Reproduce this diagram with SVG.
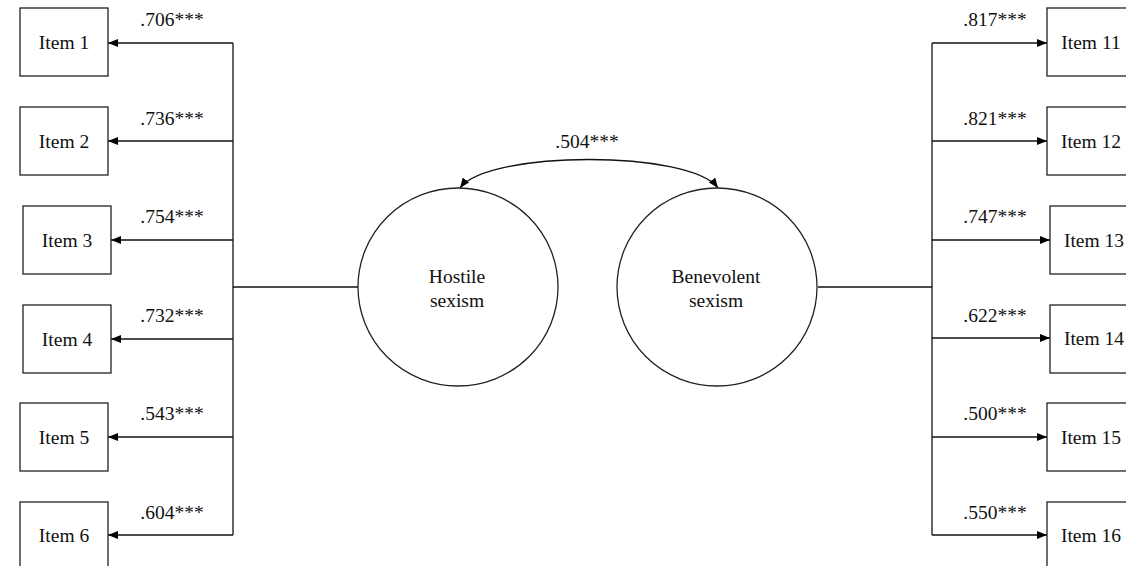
<svg xmlns="http://www.w3.org/2000/svg" width="1126" height="566" viewBox="0 0 1126 566">
<defs>
<marker id="ah" viewBox="0 0 10 8" refX="10" refY="4" markerWidth="10" markerHeight="8" markerUnits="userSpaceOnUse" orient="auto">
<path d="M0,0 L10,4 L0,8 Z" fill="#000"/>
</marker>
<marker id="ahs" viewBox="0 0 10 8" refX="0" refY="4" markerWidth="10" markerHeight="8" markerUnits="userSpaceOnUse" orient="auto">
<path d="M10,0 L0,4 L10,8 Z" fill="#000"/>
</marker>
<style>
.box{fill:#fff;stroke:#222;stroke-width:1.3}
.lat{fill:#fff;stroke:#222;stroke-width:1.3}
.t{font-family:"Liberation Serif","Times New Roman",serif;font-size:19.5px;fill:#111;text-anchor:middle}
.ln{fill:none;stroke:#111;stroke-width:1.3}
.ar{fill:none;stroke:#111;stroke-width:1.3;marker-end:url(#ah)}
</style>
</defs>
<rect width="1126" height="566" fill="#fff"/>
<g id="connectors">
<path class="ln" d="M233,43 V535"/>
<path class="ln" d="M233,287 H358"/>
<path class="ar" d="M233,43 H108"/>
<path class="ar" d="M233,141 H108"/>
<path class="ar" d="M233,240 H111"/>
<path class="ar" d="M233,339 H111"/>
<path class="ar" d="M233,437 H108"/>
<path class="ar" d="M233,535 H108"/>
<path class="ln" d="M932,43 V535"/>
<path class="ln" d="M818,287 H932"/>
<path class="ar" d="M932,43 H1047"/>
<path class="ar" d="M932,141 H1047"/>
<path class="ar" d="M932,240 H1050"/>
<path class="ar" d="M932,338 H1050"/>
<path class="ar" d="M932,437 H1047"/>
<path class="ar" d="M932,535 H1047"/>
<path class="ln" d="M460,188 C488,150 690,150 718,188" style="marker-start:url(#ahs);marker-end:url(#ah)"/>
<text class="t" x="172" y="26">.706***</text>
<text class="t" x="172" y="125">.736***</text>
<text class="t" x="172" y="223">.754***</text>
<text class="t" x="172" y="322">.732***</text>
<text class="t" x="172" y="420">.543***</text>
<text class="t" x="172" y="519">.604***</text>
<text class="t" x="995" y="26">.817***</text>
<text class="t" x="995" y="125">.821***</text>
<text class="t" x="995" y="223">.747***</text>
<text class="t" x="995" y="322">.622***</text>
<text class="t" x="995" y="420">.500***</text>
<text class="t" x="995" y="519">.550***</text>
<text class="t" x="587" y="148">.504***</text>
</g>
<g id="item1"><rect class="box" x="20" y="8" width="88" height="68"/><text class="t" x="64" y="49">Item 1</text></g>
<g id="item2"><rect class="box" x="20" y="107" width="88" height="68"/><text class="t" x="64" y="148">Item 2</text></g>
<g id="item3"><rect class="box" x="23" y="206" width="88" height="68"/><text class="t" x="67" y="247">Item 3</text></g>
<g id="item4"><rect class="box" x="23" y="305" width="88" height="68"/><text class="t" x="67" y="346">Item 4</text></g>
<g id="item5"><rect class="box" x="20" y="403" width="88" height="68"/><text class="t" x="64" y="444">Item 5</text></g>
<g id="item6"><rect class="box" x="20" y="502" width="88" height="68"/><text class="t" x="64" y="542">Item 6</text></g>
<g id="item11"><rect class="box" x="1047" y="8" width="88" height="68"/><text class="t" x="1091" y="49">Item 11</text></g>
<g id="item12"><rect class="box" x="1047" y="107" width="88" height="68"/><text class="t" x="1091" y="148">Item 12</text></g>
<g id="item13"><rect class="box" x="1050" y="206" width="88" height="68"/><text class="t" x="1094" y="247">Item 13</text></g>
<g id="item14"><rect class="box" x="1050" y="305" width="88" height="68"/><text class="t" x="1094" y="345">Item 14</text></g>
<g id="item15"><rect class="box" x="1047" y="403" width="88" height="68"/><text class="t" x="1091" y="444">Item 15</text></g>
<g id="item16"><rect class="box" x="1047" y="502" width="88" height="68"/><text class="t" x="1091" y="542">Item 16</text></g>
<g id="hostile"><ellipse class="lat" cx="458" cy="287" rx="100" ry="99"/><text class="t" x="457" y="283">Hostile</text><text class="t" x="457" y="307">sexism</text></g>
<g id="benevolent"><ellipse class="lat" cx="717" cy="287" rx="100" ry="99"/><text class="t" x="716" y="283">Benevolent</text><text class="t" x="716" y="307">sexism</text></g>
</svg>
